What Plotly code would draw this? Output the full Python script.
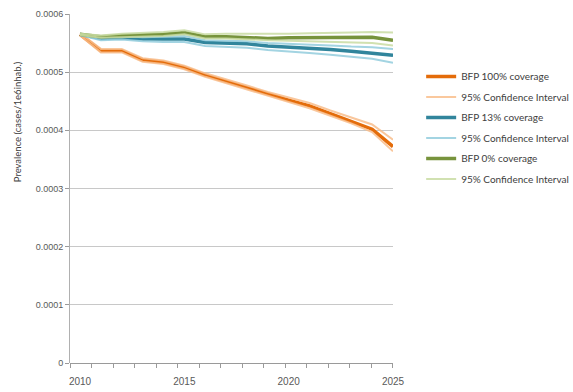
import plotly.graph_objects as go

years = list(range(2010, 2026))

bfp100 = [5.65, 5.37, 5.37, 5.21, 5.17, 5.08, 4.95, 4.84, 4.73, 4.62, 4.52, 4.42, 4.29, 4.16, 4.02, 3.72]
bfp100_hi = [5.67, 5.40, 5.40, 5.24, 5.20, 5.11, 4.98, 4.88, 4.77, 4.66, 4.56, 4.47, 4.34, 4.22, 4.10, 3.84]
bfp100_lo = [5.63, 5.34, 5.34, 5.18, 5.14, 5.05, 4.92, 4.81, 4.70, 4.59, 4.48, 4.38, 4.25, 4.12, 3.97, 3.64]

bfp13 = [5.65, 5.58, 5.59, 5.57, 5.57, 5.57, 5.51, 5.50, 5.49, 5.45, 5.43, 5.42, 5.39, 5.36, 5.33, 5.29]
bfp13_hi = [5.66, 5.61, 5.62, 5.60, 5.61, 5.62, 5.55, 5.54, 5.53, 5.50, 5.49, 5.48, 5.46, 5.44, 5.43, 5.40]
bfp13_lo = [5.64, 5.55, 5.56, 5.53, 5.52, 5.52, 5.45, 5.43, 5.42, 5.38, 5.36, 5.33, 5.30, 5.26, 5.23, 5.16]

bfp0 = [5.65, 5.61, 5.63, 5.64, 5.65, 5.68, 5.61, 5.61, 5.60, 5.58, 5.59, 5.59, 5.59, 5.59, 5.60, 5.55]
bfp0_hi = [5.66, 5.63, 5.66, 5.67, 5.69, 5.72, 5.65, 5.66, 5.66, 5.65, 5.66, 5.67, 5.67, 5.68, 5.69, 5.68]
bfp0_lo = [5.64, 5.59, 5.60, 5.61, 5.62, 5.65, 5.58, 5.58, 5.56, 5.55, 5.54, 5.53, 5.52, 5.51, 5.50, 5.46]

scale = 1e-4

y_ticks = [0, 0.0001, 0.0002, 0.0003, 0.0004, 0.0005, 0.0006]
y_ticktext = ["0", "0.0001", "0.0002", "0.0003", "0.0004", "0.0005", "0.0006"]
x_ticks = [2010, 2015, 2020, 2025]
x_ticktext = ["2010", "2015", "2020", "2025"]

series = [
    ("BFP 100% coverage", bfp100, "#E46C0A", 3.5, 1.0),
    ("95% Confidence Interval", bfp100_hi, "#F9BE8C", 2, 0.85),
    (None, bfp100_lo, "#F9BE8C", 2, 0.85),
    ("BFP 13% coverage", bfp13, "#31859C", 3.5, 1.0),
    ("95% Confidence Interval", bfp13_hi, "#93CDDD", 2, 0.85),
    (None, bfp13_lo, "#93CDDD", 2, 0.85),
    ("BFP 0% coverage", bfp0, "#77933C", 3.5, 1.0),
    ("95% Confidence Interval", bfp0_hi, "#C9DCA3", 2, 0.85),
    (None, bfp0_lo, "#C9DCA3", 2, 0.85),
]

fig = go.Figure()
for i, (name, vals, color, w, op) in enumerate(series):
    fig.add_trace(go.Scatter(
        x=years, y=[v * scale for v in vals], mode="lines",
        name=name if name else "CI",
        showlegend=name is not None,
        legendgroup="g%d" % i,
        line=dict(color=color, width=w), opacity=op,
    ))

fig.update_layout(
    width=573, height=392,
    margin=dict(l=70, r=180, t=14, b=29),
    paper_bgcolor="white", plot_bgcolor="white",
    font=dict(family="Liberation Sans, Arial", size=9, color="#595959"),
    legend=dict(
        xref="container", yref="container",
        x=0.735, xanchor="left", y=0.842, yanchor="top",
        font=dict(family="Lato", size=10, color="#404040"),
        itemwidth=30, traceorder="grouped", tracegroupgap=1.5,
        bgcolor="rgba(0,0,0,0)",
    ),
    annotations=[dict(
        text="Prevalence (cases/1e6inhab.)", textangle=-90,
        xref="paper", yref="paper", x=-0.164, y=0.69,
        xanchor="center", yanchor="middle", showarrow=False,
        font=dict(family="Lato", size=9.5, color="#404040"),
    )],
)

fig.update_xaxes(
    range=[2009.52, 2025.0], tickvals=x_ticks, ticktext=x_ticktext,
    ticks="", showgrid=False, zeroline=False, automargin=False,
    showline=False, tickfont=dict(size=10),
    ticklabelstandoff=11,
    minor=dict(tick0=2009.52, dtick=1.0316, ticks="outside", ticklen=4,
               tickcolor="#9A9A9A", showgrid=False),
)
fig.update_yaxes(
    range=[0, 0.0006], tickvals=y_ticks, ticktext=y_ticktext,
    ticks="outside", ticklen=4, tickcolor="#9A9A9A", automargin=False,
    showgrid=True, gridcolor="#C8C8C8", gridwidth=1,
    zeroline=True, zerolinecolor="#9A9A9A", zerolinewidth=1,
    showline=True, linecolor="#B0B0B0", linewidth=1,
)

fig.write_html("out.html")
